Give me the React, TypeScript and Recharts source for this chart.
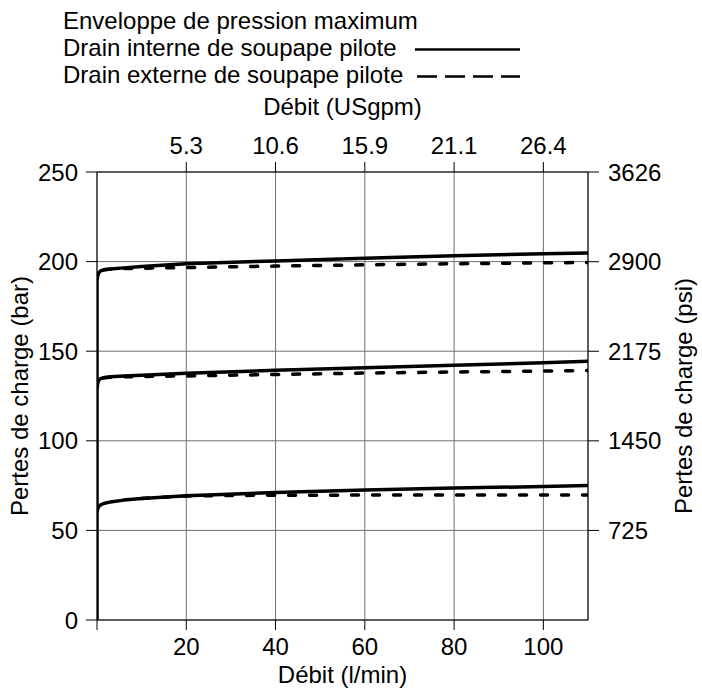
import { LineChart, Line, XAxis, YAxis, CartesianGrid, Label } from 'recharts'

const FONT = '"Liberation Sans", Arial, sans-serif'

// axis ticks
const flowTicks = [0, 20, 40, 60, 80, 100]
const gpmTicks = [20, 40, 60, 80, 100]
const gpmLabels = ['5.3', '10.6', '15.9', '21.1', '26.4']
const barTicks = [0, 50, 100, 150, 200, 250]
const psiTicks = [725, 1450, 2175, 2900, 3626]

const legendLabels = [
  'Enveloppe de pression maximum',
  'Drain interne de soupape pilote',
  'Drain externe de soupape pilote',
]

// q = débit (l/min), p = pertes de charge (bar)
const highInternal = [
  { q: 0, p: 0 }, { q: 0, p: 189.5 }, { q: 0.15, p: 192 }, { q: 0.4, p: 193.8 },
  { q: 0.8, p: 194.8 }, { q: 1.5, p: 195.4 }, { q: 3, p: 195.9 }, { q: 6, p: 196.5 },
  { q: 10, p: 197.3 }, { q: 20, p: 198.8 }, { q: 40, p: 200.4 }, { q: 60, p: 201.9 },
  { q: 80, p: 203.3 }, { q: 100, p: 204.4 }, { q: 110, p: 204.8 },
]
const highExternal = [
  { q: 1.5, p: 195.4 }, { q: 3, p: 195.8 }, { q: 6, p: 196.1 }, { q: 10, p: 196.3 },
  { q: 20, p: 196.7 }, { q: 40, p: 197.5 }, { q: 60, p: 198.2 }, { q: 80, p: 198.8 },
  { q: 100, p: 199.3 }, { q: 110, p: 199.5 },
]
const midInternal = [
  { q: 0, p: 129.2 }, { q: 0.15, p: 132 }, { q: 0.4, p: 133.8 }, { q: 0.8, p: 134.7 },
  { q: 1.5, p: 135.2 }, { q: 3, p: 135.7 }, { q: 6, p: 136.1 }, { q: 10, p: 136.6 },
  { q: 20, p: 137.7 }, { q: 40, p: 139.3 }, { q: 60, p: 140.8 }, { q: 80, p: 142.1 },
  { q: 100, p: 143.6 }, { q: 110, p: 144.4 },
]
const midExternal = [
  { q: 1.5, p: 135.2 }, { q: 3, p: 135.5 }, { q: 6, p: 135.7 }, { q: 10, p: 135.9 },
  { q: 20, p: 136.2 }, { q: 40, p: 137 }, { q: 60, p: 137.8 }, { q: 80, p: 138.4 },
  { q: 100, p: 138.9 }, { q: 110, p: 139.2 },
]
const lowInternal = [
  { q: 0, p: 60 }, { q: 0.15, p: 62 }, { q: 0.4, p: 63.3 }, { q: 0.8, p: 64.2 },
  { q: 1.5, p: 65 }, { q: 3, p: 65.9 }, { q: 6, p: 66.9 }, { q: 10, p: 67.8 },
  { q: 20, p: 69.3 }, { q: 40, p: 71.2 }, { q: 60, p: 72.5 }, { q: 80, p: 73.6 },
  { q: 100, p: 74.5 }, { q: 110, p: 75 },
]
const lowExternal = [
  { q: 10, p: 67.8 }, { q: 20, p: 69.2 }, { q: 30, p: 69.5 }, { q: 40, p: 69.6 },
  { q: 60, p: 69.7 }, { q: 80, p: 69.8 }, { q: 100, p: 69.8 }, { q: 110, p: 69.8 },
]

const solidSeries = [highInternal, midInternal, lowInternal]
const dashedSeries = [highExternal, midExternal, lowExternal]

const tickStyle = { fill: '#000', fontSize: 24, fontFamily: FONT }
const titleStyle = { fill: '#000', fontSize: 24, fontFamily: FONT }

function VerticalTitle({ viewBox, value, x }: { viewBox?: any; value: string; x: number }) {
  const cy = viewBox ? viewBox.y + viewBox.height / 2 : 396
  return (
    <text
      x={x}
      y={cy}
      transform={`rotate(-90, ${x}, ${cy})`}
      textAnchor="middle"
      style={titleStyle}
    >
      {value}
    </text>
  )
}

function LegendOverlay() {
  return (
    <svg
      width={702}
      height={92}
      style={{ position: 'absolute', left: 0, top: 0, pointerEvents: 'none' }}
    >
      {legendLabels.map((t, i) => (
        <text key={t} x={63} y={29.3 + i * 27} style={titleStyle}>
          {t}
        </text>
      ))}
      <line x1={415} x2={520} y1={49.5} y2={49.5} stroke="#000" strokeWidth={2.5} />
      <line
        x1={417}
        x2={520}
        y1={76.5}
        y2={76.5}
        stroke="#000"
        strokeWidth={2.5}
        strokeDasharray="20 8"
      />
    </svg>
  )
}

export default function App() {
  return (
    <div
      style={{
        position: 'absolute',
        left: 0,
        top: 0,
        width: 702,
        height: 696,
        background: '#fff',
      }}
    >
      <LineChart width={702} height={696} margin={{ top: 0, right: 0, bottom: 0, left: 0 }}>
        <CartesianGrid stroke="#707070" strokeWidth={1} />
        <XAxis
          dataKey="q"
          type="number"
          domain={[0, 110]}
          ticks={flowTicks}
          height={76}
          tick={tickStyle}
          tickSize={10}
          tickMargin={8}
          tickFormatter={(v: number) => (v === 0 ? '' : String(v))}
          axisLine={{ stroke: '#000' }}
          tickLine={{ stroke: '#000' }}
          allowDataOverflow
        >
          <Label value="Débit (l/min)" position="insideBottom" offset={13} style={titleStyle} />
        </XAxis>
        <XAxis
          xAxisId="top"
          dataKey="q"
          orientation="top"
          type="number"
          domain={[0, 110]}
          ticks={gpmTicks}
          interval={0}
          height={172}
          tick={tickStyle}
          tickSize={10}
          tickMargin={8}
          tickFormatter={(v: number) => gpmLabels[gpmTicks.indexOf(v)] ?? ''}
          axisLine={{ stroke: '#000' }}
          tickLine={{ stroke: '#000' }}
          allowDataOverflow
        >
          <Label value="Débit (USgpm)" position="insideTop" offset={98} style={titleStyle} />
        </XAxis>
        <YAxis
          type="number"
          domain={[0, 250]}
          ticks={barTicks}
          width={97}
          tick={tickStyle}
          tickSize={11}
          tickMargin={8}
          axisLine={{ stroke: '#000' }}
          tickLine={{ stroke: '#000' }}
          allowDataOverflow
        >
          <Label
            content={(props: any) => (
              <VerticalTitle viewBox={props.viewBox} value="Pertes de charge (bar)" x={28} />
            )}
          />
        </YAxis>
        <YAxis
          yAxisId="psi"
          orientation="right"
          type="number"
          domain={[0, 3626]}
          ticks={psiTicks}
          width={114}
          tick={tickStyle}
          tickSize={11}
          tickMargin={9}
          axisLine={{ stroke: '#000' }}
          tickLine={{ stroke: '#000' }}
          allowDataOverflow
        >
          <Label
            content={(props: any) => (
              <VerticalTitle viewBox={props.viewBox} value="Pertes de charge (psi)" x={692} />
            )}
          />
        </YAxis>
        {solidSeries.map((d, i) => (
          <Line
            key={`int-${i}`}
            data={d}
            dataKey="p"
            type="linear"
            stroke="#000"
            strokeWidth={3.5}
            strokeLinejoin="round"
            dot={false}
            activeDot={false}
            isAnimationActive={false}
          />
        ))}
        {dashedSeries.map((d, i) => (
          <Line
            key={`ext-${i}`}
            xAxisId="top"
            data={d}
            dataKey="p"
            type="linear"
            stroke="#000"
            strokeWidth={3.5}
            strokeDasharray="7 14"
            strokeLinecap="round"
            dot={false}
            activeDot={false}
            isAnimationActive={false}
          />
        ))}
      </LineChart>
      <LegendOverlay />
    </div>
  )
}
